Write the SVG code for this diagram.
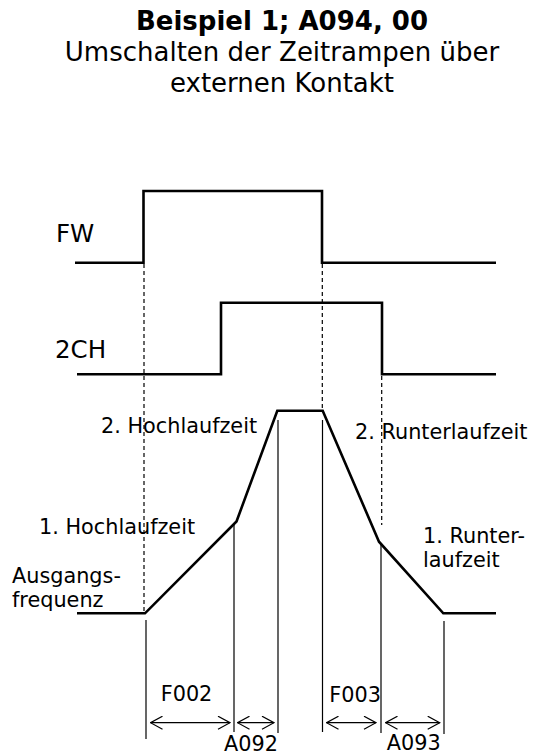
<svg xmlns="http://www.w3.org/2000/svg" width="533" height="756" viewBox="0 0 533 756">
<style>
text{font-family:"DejaVu Sans","Verdana","Liberation Sans",sans-serif;fill:#000}
.t{font-size:26px;text-anchor:middle}
.b{font-weight:bold}
.sig{font-size:24.5px}
.lbl{font-size:20.8px}
.wave{fill:none;stroke:#000;stroke-width:2.6;stroke-linejoin:miter}
.dash{fill:none;stroke:#000;stroke-width:1.2;stroke-dasharray:4 3}
.thin{fill:none;stroke:#000;stroke-width:1.2}
.arr{fill:none;stroke:#000;stroke-width:1.2;marker-start:url(#chev);marker-end:url(#chev)}
</style>
<defs>
<marker id="chev" viewBox="0 0 14 14" refX="13" refY="7" markerUnits="userSpaceOnUse" markerWidth="14" markerHeight="14" orient="auto-start-reverse">
<path d="M1,0.5 L13,7 L1,13.5" fill="none" stroke="#000" stroke-width="1.2"/>
</marker>
</defs>
<rect width="533" height="756" fill="#fff"/>
<g id="title">
<text class="t b" x="282" y="30">Beispiel 1; A094, 00</text>
<text class="t" x="282" y="61">Umschalten der Zeitrampen über</text>
<text class="t" x="282" y="92">externen Kontakt</text>
</g>
<g id="signal-fw">
<text class="sig" x="56" y="242">FW</text>
<polyline class="wave" points="75,262.7 143.5,262.7 143.5,191 322,191 322,262.7 496,262.7"/>
</g>
<g id="signal-2ch">
<text class="sig" x="55" y="358">2CH</text>
<polyline class="wave" points="77,374.3 221,374.3 221,302.7 382,302.7 382,374.3 496,374.3"/>
</g>
<g id="output-frequency">
<polyline class="wave" points="77,613.3 145,613.3 236.5,521.5 277.3,410.7 322.7,410.7 379,541.7 443.3,613.3 496,613.3"/>
<text class="lbl" x="12" y="583">Ausgangs-</text>
<text class="lbl" x="12" y="607">frequenz</text>
<text class="lbl" x="39" y="534">1. Hochlaufzeit</text>
<text class="lbl" x="101" y="433">2. Hochlaufzeit</text>
<text class="lbl" x="355" y="439">2. Runterlaufzeit</text>
<text class="lbl" x="423" y="543">1. Runter-</text>
<text class="lbl" x="423" y="567">laufzeit</text>
</g>
<g id="connectors">
<line class="dash" x1="144" y1="264" x2="144" y2="612"/>
<line class="dash" x1="322.3" y1="264" x2="322.3" y2="410"/>
<line class="dash" x1="381.7" y1="376" x2="381.7" y2="525"/>
<line class="thin" x1="146" y1="620" x2="146" y2="739"/>
<line class="thin" x1="234" y1="523" x2="234" y2="732"/>
<line class="thin" x1="278" y1="420" x2="278" y2="733"/>
<line class="thin" x1="322.5" y1="420" x2="322.5" y2="732"/>
<line class="thin" x1="381" y1="543" x2="381" y2="733"/>
<line class="thin" x1="444" y1="621" x2="444" y2="734"/>
<line class="arr" x1="150.5" y1="722.7" x2="230" y2="722.7"/>
<line class="arr" x1="237.5" y1="722.7" x2="274" y2="722.7"/>
<line class="arr" x1="326.5" y1="722.7" x2="376" y2="722.7"/>
<line class="arr" x1="385.5" y1="722.7" x2="439.7" y2="722.7"/>
</g>
<g id="interval-labels">
<text class="lbl" x="160.7" y="701">F002</text>
<text class="lbl" x="224" y="751">A092</text>
<text class="lbl" x="329.3" y="702">F003</text>
<text class="lbl" x="386.7" y="750">A093</text>
</g>
</svg>
